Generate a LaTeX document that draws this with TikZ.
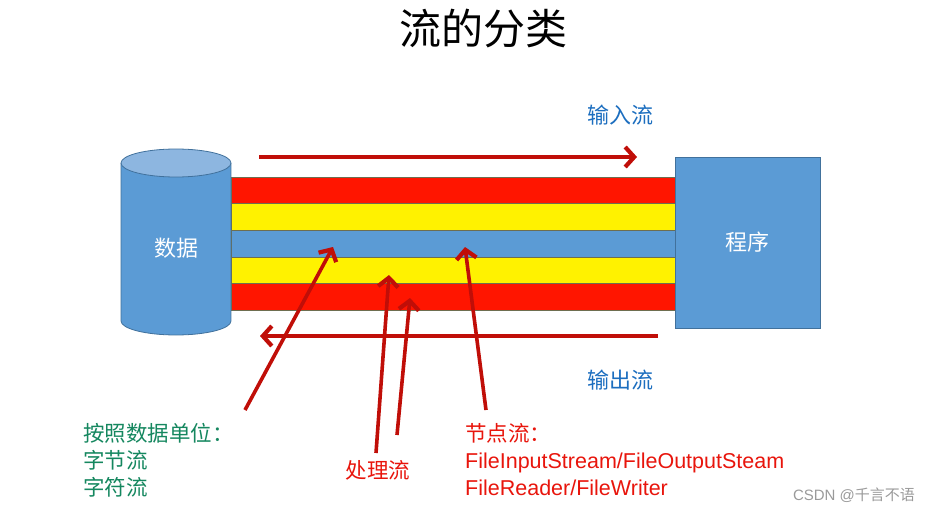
\documentclass[tikz,border=0pt]{standalone}
\usepackage{fontspec}
\setmainfont{Liberation Sans}
\newfontfamily\cjk{Noto Sans CJK SC}
\usetikzlibrary{arrows.meta, positioning}
\definecolor{cBox}{HTML}{5B9BD5}
\definecolor{cBoxB}{HTML}{41719C}
\definecolor{cCap}{HTML}{8DB6E0}
\definecolor{cRed}{HTML}{FF1500}
\definecolor{cYel}{HTML}{FFF200}
\definecolor{cStrB}{HTML}{6E6E50}
\definecolor{cArr}{HTML}{C00E08}
\definecolor{cIn}{HTML}{1C6EBF}
\definecolor{cGrn}{HTML}{15875F}
\definecolor{cTxtR}{HTML}{E8150C}
\definecolor{cMark}{HTML}{9A9A9A}

\begin{document}
\begin{tikzpicture}[x=1pt, y=1pt,
    strp/.style={minimum width=444pt, minimum height=26.6pt, inner sep=0pt,
                 outer sep=0pt, draw=cStrB, line width=0.5pt},
    sred/.style={strp, fill=cRed},
    syel/.style={strp, fill=cYel},
    sblu/.style={strp, fill=cBox},
    prgbox/.style={fill=cBox, draw=cBoxB, line width=0.8pt, minimum width=145pt,
                   minimum height=171pt, text=white, font=\cjk\fontsize{22}{26}\selectfont},
    dbbody/.style={fill=cBox, minimum width=110pt, minimum height=158pt,
                   inner sep=0pt, outer sep=0pt},
    ar/.style={-{Straight Barb[length=9pt,width=20pt,line width=4.2pt]},
               line width=3.6pt, draw=cArr},
    flow/.style={ar, line width=3.4pt},
    lbl/.style={font=\cjk\fontsize{22}{26}\selectfont, text=cIn, inner sep=0pt},
    note/.style={font=\fontsize{21.5}{27}\selectfont, align=left, inner sep=0pt,
                 anchor=north west},
]
\useasboundingbox (0,0) rectangle (938,-522);

% === TITLE ===
\node[font=\cjk\fontsize{42}{48}\selectfont, inner sep=0pt] (ttl) at (483,-29) {流的分类};

% === STRIPES: red / yellow / blue / yellow / red ===
\node[sred] (s1) at (453,-190.3) {};
\node[syel, below=0pt of s1] (s2) {};
\node[sblu, below=0pt of s2] (s3) {};
\node[syel, below=0pt of s3] (s4) {};
\node[sred, below=0pt of s4] (s5) {};

% === PROGRAM BOX ===
\node[prgbox] (prog) at (747.5,-242.5) {程序};

% === DATA CYLINDER ===
\node[dbbody] (db) at (176,-242) {};
\fill[cBox] (db.south west) arc[start angle=180, end angle=360, x radius=55, y radius=14];
\draw[cBoxB, line width=0.8pt] (db.north west) -- (db.south west)
    arc[start angle=180, end angle=360, x radius=55, y radius=14] -- (db.north east);
\draw[cBoxB, fill=cCap, line width=0.8pt] (db.north) ellipse[x radius=55, y radius=14];
\node[text=white, font=\cjk\fontsize{22}{26}\selectfont, inner sep=0pt] (dbl)
    at ([yshift=-6pt]db.center) {数据};

% === INPUT / OUTPUT ARROWS ===
\coordinate (inA) at (259,-157);
\coordinate (inB) at (637,-157);
\draw[flow] (inA) -- (inB);
\node[lbl] (inl) at (620,-115) {输入流};

\coordinate (outA) at (658,-336);
\coordinate (outB) at (260,-336);
\draw[flow] (outA) -- (outB);
\node[lbl] (outl) at (620,-380) {输出流};

% === POINTER ARROWS ===
\coordinate (p1a) at (245,-410);  \coordinate (p1b) at (333,-247);
\coordinate (p2a) at (376,-453);  \coordinate (p2b) at (389,-275);
\coordinate (p3a) at (397,-435);  \coordinate (p3b) at (410,-298);
\coordinate (p4a) at (486,-410);  \coordinate (p4b) at (465,-247);
\draw[ar] (p1a) -- (p1b);
\draw[ar] (p2a) -- (p2b);
\draw[ar] (p3a) -- (p3b);
\draw[ar] (p4a) -- (p4b);

% === NOTES ===
\node[note, text=cGrn] (unit) at (83,-423) {\cjk 按照数据单位：\\\cjk 字节流\\\cjk 字符流};
\node[font=\cjk\fontsize{21.5}{26}\selectfont, text=cTxtR, inner sep=0pt] (proc)
    at (378,-470) {处理流};
\node[note, text=cTxtR] (nodel) at (465,-423)
    {{\cjk 节点流：}\\FileInputStream/FileOutputSteam\\FileReader/FileWriter};

\node[font=\fontsize{15}{18}\selectfont, text=cMark, inner sep=0pt] (wm)
    at (854,-495) {CSDN @{\cjk 千言不语}};

\end{tikzpicture}
\end{document}
